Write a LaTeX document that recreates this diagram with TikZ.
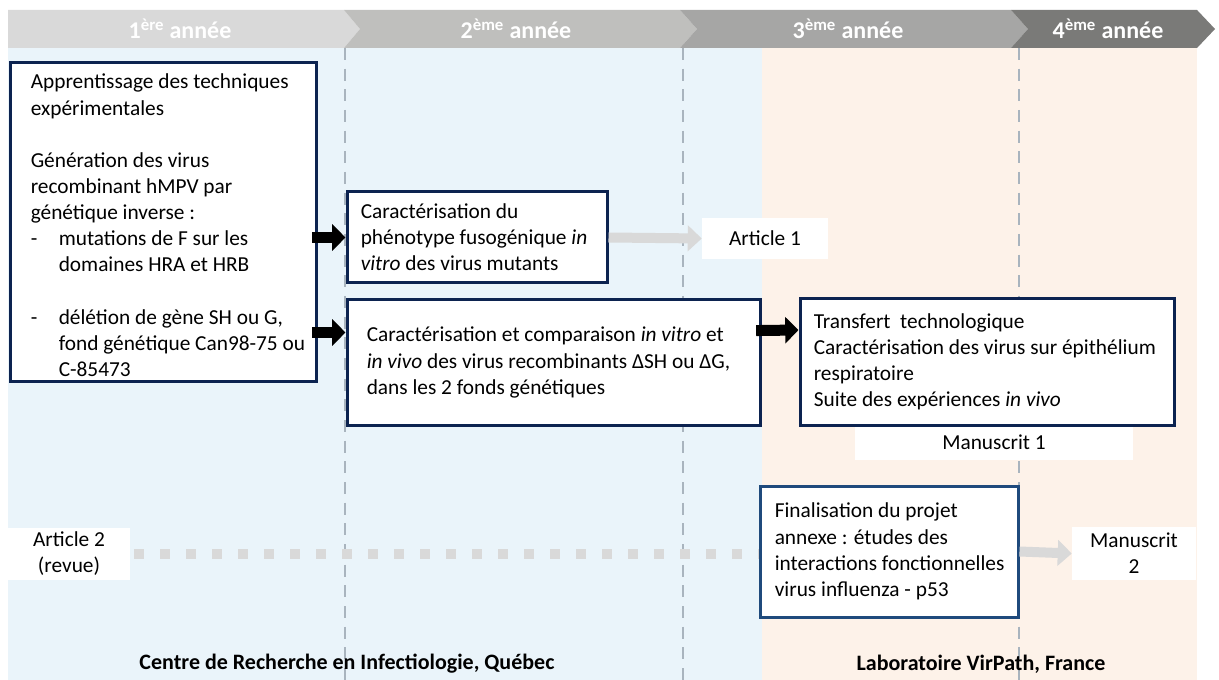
\documentclass[tikz,border=0pt]{standalone}
\usepackage{fontspec}
\setmainfont{Carlito}
\usetikzlibrary{arrows.meta,calc}
\definecolor{navy}{HTML}{0C2350}
\definecolor{navyE}{HTML}{1F4A7C}
\definecolor{bgblue}{HTML}{EAF4FA}
\definecolor{bgpeach}{HTML}{FDF2E9}
\definecolor{hA}{HTML}{D9D9D9}
\definecolor{hB}{HTML}{BFBFBD}
\definecolor{hC}{HTML}{A6A6A5}
\definecolor{hD}{HTML}{7A7A78}
\definecolor{vline}{HTML}{A9B4BE}
\definecolor{garr}{HTML}{D9D9D9}
\newcommand{\bodyfont}{\fontsize{16}{19.6}\selectfont}
\newcommand{\headfont}{\fontsize{18}{20}\selectfont\bfseries}
\newcommand{\footfont}{\fontsize{16.5}{20}\selectfont\bfseries}
\newcommand{\dashitem}{\makebox[21pt][l]{-}}
\newcommand{\indentitem}{\hspace*{21pt}}
\begin{document}
\begin{tikzpicture}[x=0.75pt,y=-0.75pt,
  box/.style={draw=navy, line width=2.25pt, fill=white, inner sep=0pt},
  boxE/.style={box, draw=navyE},
  wbox/.style={fill=white, inner sep=0pt, font=\bodyfont, align=center},
  txt/.style={inner sep=0pt, align=left, font=\bodyfont, anchor=west},
  headtxt/.style={inner sep=0pt, text=white, font=\headfont},
  foottxt/.style={inner sep=0pt, font=\footfont},
  vdash/.style={draw=vline, line width=1.5pt, dash pattern=on 9pt off 6.5pt},
  blackarr/.style={draw=black, line width=8.25pt, shorten <=-4pt, -{Triangle[length=10pt,width=19.5pt]}},
  grayarr/.style={draw=garr, line width=7.5pt, -{Triangle[length=10.5pt,width=19pt]}},
  dotline/.style={draw=garr, line width=7.5pt, dash pattern=on 7.5pt off 12pt}
]
\useasboundingbox (0,0) rectangle (1219,680);
% backgrounds
\fill[bgblue] (8,48) rectangle (762,680);
\fill[bgpeach] (762,48) rectangle (1197,680);
% header chevrons
\fill[hA] (8,10) -- (344,10) -- (360,29) -- (344,48) -- (8,48) -- cycle;
\fill[hB] (344,10) -- (680,10) -- (697,29) -- (680,48) -- (344,48) -- (360,29) -- cycle;
\fill[hC] (680,10) -- (1011,10) -- (1028,29) -- (1011,48) -- (680,48) -- (697,29) -- cycle;
\fill[hD] (1011,10) -- (1197,10) -- (1215,29) -- (1197,48) -- (1011,48) -- (1028,29) -- cycle;
\node[headtxt] (y1) at (180,29) {1\textsuperscript{ère} année};
\node[headtxt] (y2) at (516,29) {2\textsuperscript{ème} année};
\node[headtxt] (y3) at (848,29) {3\textsuperscript{ème} année};
\node[headtxt] (y4) at (1108,29) {4\textsuperscript{ème} année};
% dashed separators
\coordinate (d1t) at (345,48); \coordinate (d1b) at (345,680);
\coordinate (d2t) at (683,48); \coordinate (d2b) at (683,680);
\coordinate (d3t) at (1019,48); \coordinate (d3b) at (1019,680);
\draw[vdash] (d1t) -- (d1b);
\draw[vdash] (d2t) -- (d2b);
\draw[vdash] (d3t) -- (d3b);
% white label boxes
\node[wbox, minimum width={126*0.75pt}, minimum height={41*0.75pt}] (art1) at (765,238.5) {Article 1};
\node[wbox, minimum width={278*0.75pt}, minimum height={35*0.75pt}] (man1) at (994,442.5) {Manuscrit 1};
\node[wbox, minimum width={122*0.75pt}, minimum height={52*0.75pt}] (art2) at (69,554) {Article 2\\(revue)};
\node[wbox, minimum width={124*0.75pt}, minimum height={53*0.75pt}] (man2) at (1134,553.5) {Manuscrit\\2};
% dotted connector
\draw[dotline] ([xshift=3pt]art2.east) -- (art2.east -| 760,0);
% boxes
\node[box, minimum width={306*0.75pt}, minimum height={318*0.75pt}] (A) at (163,222) {};
\node[txt] (Atxt) at ([xshift=16.5pt,yshift=-2.5pt]A.west) {Apprentissage des techniques\\
expérimentales\\[19.6pt]
Génération des virus\\
recombinant hMPV par\\
génétique inverse :\\
\dashitem mutations de F sur les\\
\indentitem domaines HRA et HRB\\[19.6pt]
\dashitem délétion de gène SH ou G,\\
\indentitem fond génétique Can98-75 ou\\
\indentitem C-85473};
\node[box, minimum width={260*0.75pt}, minimum height={91*0.75pt}] (B) at (477,237.5) {};
\node[txt] (Btxt) at ([xshift=11.25pt]B.west) {Caractérisation du\\
phénotype fusogénique \textit{in}\\
\textit{vitro} des virus mutants};
\node[box, minimum width={413*0.75pt}, minimum height={125*0.75pt}] (C) at (553.5,362.5) {};
\node[txt] (Ctxt) at ([xshift=15.75pt]C.west) {Caractérisation et comparaison \textit{in vitro} et\\
\textit{in vivo} des virus recombinants ΔSH ou ΔG,\\
dans les 2 fonds génétiques};
\node[box, minimum width={374*0.75pt}, minimum height={126*0.75pt}] (D) at (987,362) {};
\node[txt] (Dtxt) at ([xshift=11.25pt]D.west) {Transfert\ \ technologique\\
Caractérisation des virus sur épithélium\\
respiratoire\\
Suite des expériences \textit{in vivo}};
\node[boxE, minimum width={258*0.75pt}, minimum height={131*0.75pt}] (E) at (889,551.5) {};
\node[txt] (Etxt) at ([xshift=12pt]E.west) {Finalisation du projet\\
annexe : études des\\
interactions fonctionnelles\\
virus influenza - p53};
% arrows
\draw[blackarr] (A.east |- B.west) -- (B.west);
\draw[blackarr] ([yshift=22.5pt]A.east |- C.west) -- ([yshift=22.5pt]C.west);
\draw[blackarr] ([yshift=24pt]C.east) -- ([yshift=24pt]D.west);
\draw[grayarr] (B.east) -- (art1.west);
\draw[grayarr] (E.east) -- (man2.west);
% footer labels
\node[foottxt] (lab1) at (347,664) {Centre de Recherche en Infectiologie, Québec};
\node[foottxt] (lab2) at (981,664) {Laboratoire VirPath, France};
\end{tikzpicture}
\end{document}
